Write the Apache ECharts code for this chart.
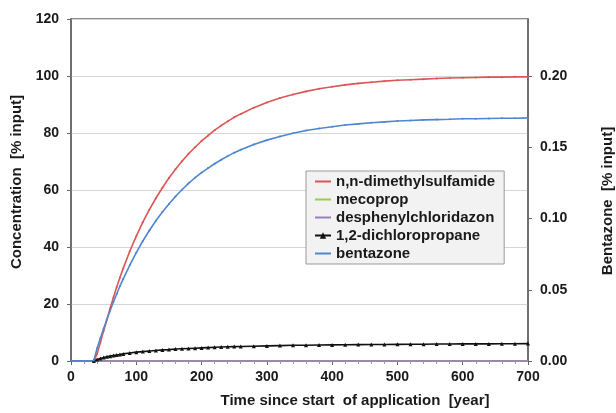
<!DOCTYPE html>
<html>
<head>
<meta charset="utf-8">
<script src="https://cdn.jsdelivr.net/npm/echarts@6/dist/echarts.min.js"></script>
<style>html,body{margin:0;padding:0;background:#fff;}#c{width:616px;height:413px;}</style>
</head>
<body>
<div id="c"></div>
<script>
// Time axis (years since start of application)
const years = [35,40,45,50,55,60,65,70,75,80,90,100,110,120,130,140,150,160,170,180,190,200,210,220,230,240,250,260,280,300,320,340,360,380,400,420,440,460,480,500,520,540,560,580,600,620,640,660,680,700];
// n,n-dimethylsulfamide [% input]
const dimethylsulfamide = [0,2.5,6.5,10.6,14.5,18.5,22.3,26.0,29.3,32.5,38.5,43.8,48.7,53.1,57.1,60.8,64.2,67.3,70.1,72.7,75.0,77.2,79.1,81.0,82.6,84.1,85.5,86.7,88.9,90.7,92.3,93.5,94.6,95.5,96.2,96.9,97.4,97.8,98.2,98.5,98.7,98.9,99.1,99.3,99.4,99.5,99.6,99.6,99.7,99.7];
// 1,2-dichloropropane [% input]
const dichloropropane = [0,0.5,0.9,1.2,1.5,1.7,1.9,2.1,2.3,2.5,2.8,3.1,3.3,3.5,3.7,3.9,4.0,4.2,4.3,4.4,4.5,4.6,4.7,4.8,4.9,5.0,5.05,5.1,5.2,5.3,5.4,5.5,5.55,5.6,5.65,5.7,5.75,5.8,5.8,5.85,5.9,5.9,5.95,5.95,6.0,6.0,6.0,6.05,6.05,6.1];
// bentazone [% input] (right axis)
const bentazoneYears = [0].concat(years);
const bentazone = [0,0.0004,0.0090,0.0160,0.0228,0.0292,0.0354,0.0414,0.0470,0.0526,0.0576,0.0672,0.0760,0.0842,0.0916,0.0984,0.1046,0.1102,0.1154,0.1202,0.1246,0.1286,0.1322,0.1354,0.1384,0.1412,0.1438,0.1462,0.1482,0.1520,0.1550,0.1576,0.1598,0.1618,0.1632,0.1644,0.1656,0.1664,0.1672,0.1678,0.1684,0.1688,0.1692,0.1694,0.1696,0.1700,0.1700,0.1702,0.1704,0.1704,0.1706];
// mecoprop and desphenylchloridazon stay at zero
const zeroYears = [35, 700];
const mecoprop = [0, 0];
const desphenylchloridazon = [0, 0];

const xTicks = {min: 0, max: 700, interval: 100};
const yLeftTicks = {min: 0, max: 120, interval: 20};
const yRightTicks = {min: 0, max: 0.24, interval: 0.05};

function pairs(xs, ys) { return xs.map((x, i) => [x, ys[i]]); }

const FONT = 'Liberation Sans';
const axisCol = '#666';
const noMark = {opacity: 0};
const chart = echarts.init(document.getElementById('c'), null, {renderer: 'canvas'});
chart.setOption({
  animation: false,
  backgroundColor: '#fff',
  grid: {left: 71, right: 88, top: 19, bottom: 52, show: true, borderColor: axisCol, borderWidth: 1.5,
         backgroundColor: 'transparent', containLabel: false, outerBoundsMode: 'none'},
  legend: {
    orient: 'vertical', left: 306, top: 171,
    padding: [3, 9, 3, 8],
    backgroundColor: '#f2f2f2', borderColor: '#9a9a9a', borderWidth: 1,
    itemWidth: 16, itemHeight: 8, itemGap: 3,
    textStyle: {fontFamily: FONT, fontWeight: 'bold', fontSize: 15, color: '#1a1a1a', lineHeight: 15},
    data: [
      {name: 'n,n-dimethylsulfamide', itemStyle: noMark},
      {name: 'mecoprop', itemStyle: noMark},
      {name: 'desphenylchloridazon', itemStyle: noMark},
      {name: '1,2-dichloropropane', itemStyle: {opacity: 1}},
      {name: 'bentazone', itemStyle: noMark}
    ]
  },
  xAxis: {
    type: 'value', min: xTicks.min, max: xTicks.max, interval: xTicks.interval,
    name: 'Time since start  of application  [year]', nameLocation: 'middle', nameGap: 32,
    nameTextStyle: {fontFamily: FONT, fontWeight: 'bold', fontSize: 15, color: '#1a1a1a', padding: [0, 0, 0, 111]},
    axisLine: {lineStyle: {color: axisCol, width: 1.5}},
    axisTick: {show: true, inside: false, length: 4, lineStyle: {color: axisCol}},
    minorTick: {show: true, splitNumber: 5, length: 3, lineStyle: {color: '#999'}},
    axisLabel: {fontFamily: FONT, fontWeight: 'bold', fontSize: 14, color: '#1a1a1a', margin: 9},
    splitLine: {show: false}
  },
  yAxis: [{
    type: 'value', position: 'left', min: yLeftTicks.min, max: yLeftTicks.max, interval: yLeftTicks.interval,
    name: 'Concentration  [% input]', nameLocation: 'middle', nameGap: 44, nameRotate: 90,
    nameTextStyle: {fontFamily: FONT, fontWeight: 'bold', fontSize: 15, color: '#1a1a1a', padding: [0, 0, 0, 16]},
    axisLine: {show: true, lineStyle: {color: axisCol, width: 1.5}},
    axisTick: {show: true, length: 4, lineStyle: {color: axisCol}},
    axisLabel: {fontFamily: FONT, fontWeight: 'bold', fontSize: 14, color: '#1a1a1a', margin: 12},
    splitLine: {show: true, lineStyle: {color: '#d6d6d6', width: 1}}
  }, {
    type: 'value', position: 'right', min: yRightTicks.min, max: yRightTicks.max, interval: yRightTicks.interval,
    name: 'Bentazone  [% input]', nameLocation: 'middle', nameGap: 72, nameRotate: 90,
    nameTextStyle: {fontFamily: FONT, fontWeight: 'bold', fontSize: 15, color: '#1a1a1a', padding: [0, 22, 0, 0]},
    axisLine: {show: true, lineStyle: {color: axisCol, width: 1.5}},
    axisTick: {show: true, length: 4, lineStyle: {color: axisCol}},
    axisLabel: {fontFamily: FONT, fontWeight: 'bold', fontSize: 14, color: '#1a1a1a', margin: 12, showMaxLabel: false,
      formatter: v => v.toFixed(2)},
    splitLine: {show: false}
  }],
  series: [
    {name: 'n,n-dimethylsulfamide', type: 'line', yAxisIndex: 0, data: pairs(years, dimethylsulfamide),
     symbol: 'circle', symbolSize: 2, showSymbol: true, color: '#dd5555', lineStyle: {width: 1.6}},
    {name: 'mecoprop', type: 'line', yAxisIndex: 0, data: pairs(zeroYears, mecoprop),
     symbol: 'none', color: '#9acb4a', lineStyle: {width: 1.6}},
    {name: 'desphenylchloridazon', type: 'line', yAxisIndex: 0, data: pairs(zeroYears, desphenylchloridazon),
     symbol: 'none', color: '#9a7cc8', lineStyle: {width: 1.6}},
    {name: '1,2-dichloropropane', type: 'line', yAxisIndex: 0, data: pairs(years, dichloropropane),
     symbol: 'triangle', symbolSize: 4, showSymbol: true, color: '#111', lineStyle: {width: 1.6}},
    {name: 'bentazone', type: 'line', yAxisIndex: 1, data: pairs(bentazoneYears, bentazone),
     symbol: 'circle', symbolSize: 2, showSymbol: true, color: '#4f86d0', lineStyle: {width: 1.6}}
  ]
});
</script>
</body>
</html>
